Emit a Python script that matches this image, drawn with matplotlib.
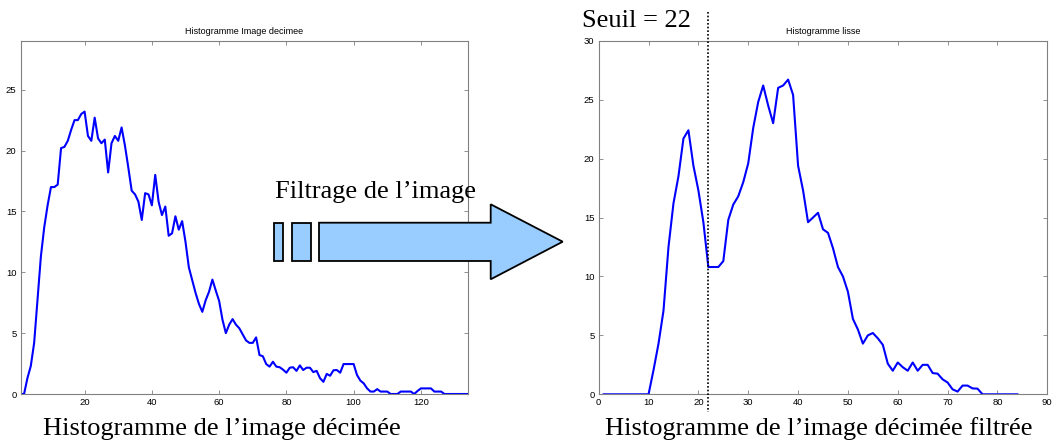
import numpy as np
import matplotlib
matplotlib.use("Agg")
import matplotlib.pyplot as plt
import matplotlib.patches as patches
from matplotlib.lines import Line2D

# --- data ---
hist_decimee = [
    0, 0, 1.3, 2.3, 4.2, 7.7, 11.3, 13.7, 15.5, 17.0,
    17.0, 17.2, 20.2, 20.3, 20.8, 21.7, 22.5, 22.5, 23.0, 23.2,
    21.2, 20.8, 22.7, 21.0, 20.6, 20.9, 18.2, 20.6, 21.2, 20.8,
    21.9, 20.4, 18.6, 16.7, 16.4, 15.8, 14.3, 16.5, 16.4, 15.5,
    18.0, 15.8, 14.7, 15.4, 13.0, 13.2, 14.6, 13.5, 14.2, 12.5,
    10.4, 9.35, 8.3, 7.4, 6.75, 7.7, 8.4, 9.4, 8.5, 7.65,
    6.1, 5.0, 5.7, 6.15, 5.7, 5.4, 4.9, 4.4, 4.2, 4.2,
    4.65, 3.2, 3.1, 2.46, 2.25, 2.65, 2.25, 2.2, 2.0, 1.75,
    2.16, 2.2, 1.9, 2.35, 1.97, 2.16, 2.16, 1.8, 1.9, 1.3,
    1.0, 1.65, 1.5, 1.95, 1.97, 1.75, 2.46, 2.46, 2.46, 2.46,
    1.56, 1.1, 0.87, 0.46, 0.2, 0.2, 0.4, 0.2, 0.2, 0.2,
    0, 0, 0, 0.2, 0.2, 0.2, 0.2, 0, 0.25, 0.46,
    0.46, 0.46, 0.46, 0.2, 0.2, 0.2, 0, 0, 0, 0,
    0, 0, 0, 0,
]
hist_lisse = [
    0, 0, 0, 0, 0, 0, 0, 0, 0, 0,
    2.06, 4.3, 7.1, 12.5, 16.2, 18.5, 21.7, 22.4, 19.4, 17.3,
    14.6, 10.8, 10.8, 10.8, 11.3, 14.8, 16.1, 16.8, 18.0, 19.6,
    22.6, 24.8, 26.2, 24.5, 23.0, 26.0, 26.2, 26.7, 25.4, 19.4,
    17.3, 14.6, 15.0, 15.4, 14.0, 13.7, 12.4, 10.8, 10.0, 8.7,
    6.4, 5.5, 4.3, 5.0, 5.2, 4.75, 4.2, 2.6, 2.0, 2.7,
    2.3, 2.0, 2.7, 2.0, 2.5, 2.5, 1.8, 1.75, 1.27, 1.0,
    0.42, 0.23, 0.74, 0.74, 0.5, 0.48, 0, 0, 0, 0,
    0, 0, 0, 0,
]
seuil = 22
left_xticks = [20, 40, 60, 80, 100, 120]
left_yticks = [0, 5, 10, 15, 20, 25]
right_xticks = list(range(0, 100, 10))
right_yticks = [0, 5, 10, 15, 20, 25, 30]

W, H = 1056, 446
fig = plt.figure(figsize=(W / 100, H / 100), dpi=100)
serif = ["Liberation Serif", "DejaVu Serif"]
sans = ["Liberation Sans", "DejaVu Sans"]


def fx(px):
    return px / W


def fy(py):
    return 1 - py / H


def style_axes(ax, title):
    for s in ax.spines.values():
        s.set_color("#808080")
        s.set_linewidth(0.8)
    ax.tick_params(direction="in", length=3, width=0.6, color="#808080",
                   top=True, right=True, labelsize=6.8, pad=3)
    for lab in ax.get_xticklabels() + ax.get_yticklabels():
        lab.set_family(sans)
    ax.set_title(title, fontsize=6.5, family=sans, pad=5)


# left axes
ax1 = fig.add_axes([fx(20.7), fy(394), fx(468 - 20.7), (394 - 41) / H])
x1 = np.arange(1, len(hist_decimee) + 1)
ax1.plot(x1, hist_decimee, color="#0000ff", lw=1.5)
ax1.set_xlim(1, 134)
ax1.set_ylim(0, 29)
ax1.set_xticks(left_xticks)
ax1.set_yticks(left_yticks)
style_axes(ax1, "Histogramme Image decimee")

# right axes
ax2 = fig.add_axes([fx(598.7), fy(394.3), fx(1047.3 - 598.7), (394.3 - 40.7) / H])
x2 = np.arange(1, len(hist_lisse) + 1)
ax2.plot(x2, hist_lisse, color="#0000ff", lw=1.5)
ax2.set_xlim(0, 90)
ax2.set_ylim(0, 30)
ax2.set_xticks(right_xticks)
ax2.set_yticks(right_yticks)
style_axes(ax2, "Histogramme lisse")

# threshold line (runs beyond the axes)
xs = fx(598.7 + seuil * (1047.3 - 598.7) / 90)
fig.add_artist(Line2D([xs, xs], [fy(12), fy(412)], color="black",
                      lw=1.2, ls=(0, (1, 1.2)), zorder=6))
fig.text(fx(582), fy(26.7), "Seuil = %d" % seuil, fontsize=19, family=serif,
         va="baseline", ha="left")

# filtering arrow
fill = "#99ccff"
for x0, x1r in [(274, 283.3), (292.3, 310.7)]:
    fig.add_artist(patches.Rectangle((fx(x0), fy(261)), fx(x1r - x0), (261 - 222.7) / H,
                                     transform=fig.transFigure, facecolor=fill,
                                     edgecolor="black", lw=1.3, zorder=5))
arrow_pts = [(319, 222.7), (490.7, 222.7), (490.7, 204.3), (562.7, 241.7),
             (490.7, 279.3), (490.7, 261), (319, 261)]
fig.add_artist(patches.Polygon([(fx(a), fy(b)) for a, b in arrow_pts], closed=True,
                               transform=fig.transFigure, facecolor=fill,
                               edgecolor="black", lw=1.3, zorder=5))
fig.text(fx(275), fy(197.7), "Filtrage de l\u2019image", fontsize=19, family=serif,
         va="baseline", ha="left", zorder=6)

# captions
fig.text(fx(43), fy(435), "Histogramme de l\u2019image d\u00e9cim\u00e9e", fontsize=19,
         family=serif, va="baseline", ha="left")
fig.text(fx(605), fy(435), "Histogramme de l\u2019image d\u00e9cim\u00e9e filtr\u00e9e",
         fontsize=19, family=serif, va="baseline", ha="left")

fig.savefig("out.png", dpi=100)
